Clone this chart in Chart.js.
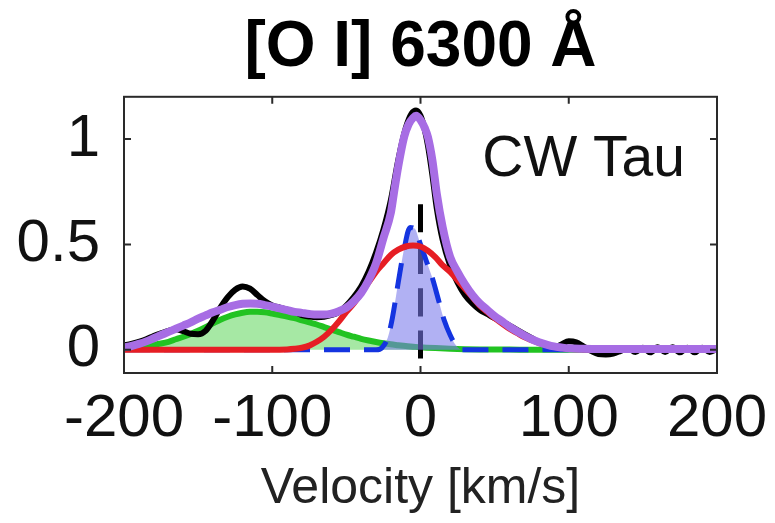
<!DOCTYPE html>
<html><head><meta charset="utf-8">
<script src="https://cdn.jsdelivr.net/npm/chart.js@4.4.0/dist/chart.umd.min.js"></script>
<style>html,body{margin:0;padding:0;background:#fff;}#wrap{width:775px;height:523px;}</style>
</head><body><div id="wrap"><canvas id="c" width="775" height="523"></canvas></div>
<script>
const titleText = '[O I] 6300 Å';
const objectLabel = 'CW Tau';
const xTitle = 'Velocity [km/s]';
const xTicks = [-200, -100, 0, 100, 200];
const yTicks = [0, 0.5, 1];

// observed spectrum (black)
const obsVel = [-200,-195,-190,-185,-180,-175,-170,-165,-160,-155,-150,-145,-140,-135,-130,-125,-120,-115,-110,-105,-100,-95,-90,-85,-80,-75,-70,-65,-60,-55,-50,-45,-40,-35,-30,-25,-20,-15,
  -10,-6,-3,0,3,5,8,11,15,
  20,25,30,35,40,45,50,55,60,65,70,75,80,85,90,95,100,105,110,115,120,125,130,135,140,145,150,155,160,165,170,175,180,185,190,195,200];
const obsFlux = [0.02,0.028,0.038,0.05,0.065,0.078,0.09,0.098,0.088,0.076,0.074,0.09,0.14,0.20,0.25,0.285,0.30,0.29,0.26,0.23,0.21,0.20,0.19,0.18,0.165,0.158,0.155,0.157,0.165,0.18,0.21,0.25,0.30,0.37,0.46,0.57,0.71,0.90,
  1.05,1.12,1.135,1.11,1.04,0.97,0.83,0.67,0.52,
  0.40,0.32,0.26,0.22,0.19,0.17,0.15,0.135,0.115,0.095,0.075,0.055,0.035,0.02,0.012,0.025,0.04,0.035,0.015,-0.005,-0.02,-0.022,-0.018,-0.005,0.008,-0.01,0.01,-0.012,0.012,-0.01,0.012,-0.012,0.01,-0.012,0.01,-0.01,0.004];

// total fit (purple)
const fitVel = [-200,-195,-190,-185,-180,-175,-170,-165,-160,-155,-150,-145,-140,-135,-130,-125,-120,-115,-110,-105,-100,-95,-90,-85,-80,-75,-70,-65,-60,-55,-50,-45,-40,-35,-30,-25,-20,
  -18,-15,-11,-8,-5,-3,0,3,5,8,11,15,
  20,25,30,35,40,45,50,55,60,65,70,75,80,85,90,95,100,110,120,140,160,180,200];
const fitFlux = [0.012,0.018,0.028,0.04,0.055,0.07,0.085,0.10,0.115,0.13,0.148,0.163,0.178,0.19,0.203,0.212,0.218,0.22,0.218,0.212,0.205,0.196,0.188,0.18,0.175,0.17,0.167,0.167,0.172,0.183,0.20,0.23,0.27,0.33,0.41,0.53,0.65,
  0.74,0.87,1.01,1.07,1.10,1.11,1.09,1.05,1.01,0.90,0.74,0.58,
  0.44,0.37,0.31,0.26,0.22,0.19,0.16,0.135,0.11,0.088,0.068,0.05,0.036,0.025,0.016,0.011,0.007,0.005,0.004,0.004,0.004,0.004,0.004];

// broad component (red)
const redVel = [-200,-150,-100,-90,-85,-80,-75,-70,-65,-60,-55,-50,-45,-40,-35,-30,-25,-20,-15,-10,-5,0,5,10,15,20,25,30,35,40,45,50,55,60,65,70,75,80,85,90,95,100,110,120,150,200];
const redFlux = [0,0,0,0.002,0.005,0.01,0.02,0.038,0.062,0.095,0.135,0.18,0.22,0.27,0.32,0.37,0.41,0.45,0.475,0.49,0.495,0.49,0.47,0.44,0.40,0.37,0.33,0.29,0.25,0.21,0.18,0.15,0.125,0.10,0.08,0.06,0.045,0.032,0.022,0.014,0.009,0.005,0.002,0,0,0];

// narrow component (blue dashed, filled)
const blueVel = [-200,-100,-30,-26,-22,-19,-15,-11,-7,-4,0,4,8,12,16,20,24,28,100,200];
const blueFlux = [0,0,0,0.01,0.06,0.15,0.32,0.48,0.58,0.575,0.50,0.42,0.34,0.24,0.14,0.07,0.02,0,0,0];

// high-velocity component (green, filled)
const greenVel = [-200,-195,-190,-185,-180,-175,-170,-165,-160,-155,-150,-145,-140,-135,-130,-125,-120,-115,-110,-105,-100,-95,-90,-85,-80,-75,-70,-65,-60,-55,-50,-45,-40,-35,-30,-25,-20,-15,-10,-5,
  0,10,20,30,40,60,80,120,200];
const greenFlux = [0.005,0.008,0.012,0.017,0.024,0.03,0.038,0.05,0.062,0.075,0.09,0.107,0.125,0.143,0.157,0.168,0.176,0.18,0.18,0.178,0.172,0.165,0.158,0.15,0.14,0.13,0.12,0.108,0.096,0.084,0.072,0.062,0.052,0.044,0.037,0.031,0.026,0.022,0.018,0.015,
  0.012,0.008,0.005,0.003,0.002,0.001,0,0,0];

// zero-velocity marker (black dashed)
const zeroVel = [0, 0];
const zeroFlux = [0.69, -0.11];

const labelVel = 110, labelFlux = 0.9;

const pts = (xs, ys) => xs.map((v, i) => ({x: v, y: ys[i]}));
const FONT = '"Liberation Sans", Arial, Helvetica, sans-serif';

const framePlugin = {
  id: 'frame',
  afterDatasetsDraw(chart) {
    const {ctx, chartArea: a, scales: {x, y}} = chart;
    ctx.save();
    ctx.strokeStyle = '#2a2a2a'; ctx.lineWidth = 2;
    ctx.strokeRect(a.left, a.top, a.right - a.left, a.bottom - a.top);
    const L = 7;
    ctx.beginPath();
    xTicks.forEach(v => { const p = x.getPixelForValue(v);
      ctx.moveTo(p, a.bottom); ctx.lineTo(p, a.bottom - L);
      ctx.moveTo(p, a.top); ctx.lineTo(p, a.top + L); });
    yTicks.forEach(v => { const p = y.getPixelForValue(v);
      ctx.moveTo(a.left, p); ctx.lineTo(a.left + L, p);
      ctx.moveTo(a.right, p); ctx.lineTo(a.right - L, p); });
    ctx.stroke();
    ctx.font = '57px ' + FONT; ctx.fillStyle = '#111';
    ctx.textAlign = 'center'; ctx.textBaseline = 'middle';
    ctx.fillText(objectLabel, x.getPixelForValue(labelVel), y.getPixelForValue(labelFlux));
    ctx.restore();
  }
};

const base = {pointRadius: 0, fill: false, cubicInterpolationMode: 'monotone'};

new Chart(document.getElementById('c'), {
  type: 'line',
  data: {
    datasets: [
      Object.assign({}, base, {label: 'fit', data: pts(fitVel, fitFlux), borderColor: '#a76de4', borderWidth: 8}),
      Object.assign({}, base, {label: 'BC', data: pts(redVel, redFlux), borderColor: '#e61e24', borderWidth: 6}),
      Object.assign({}, base, {label: 'NC', data: pts(blueVel, blueFlux), borderColor: '#1434e0', borderWidth: 5,
        borderDash: [26, 14], fill: 'origin', backgroundColor: 'rgba(120,120,235,0.58)'}),
      Object.assign({}, base, {label: 'v0', data: pts(zeroVel, zeroFlux), borderColor: '#000', borderWidth: 5, borderDash: [28, 14]}),
      Object.assign({}, base, {label: 'obs', data: pts(obsVel, obsFlux), borderColor: '#000', borderWidth: 6}),
      Object.assign({}, base, {label: 'HVC', data: pts(greenVel, greenFlux), borderColor: '#22c322', borderWidth: 6,
        fill: 'origin', backgroundColor: '#a6e8a4'})
    ]
  },
  options: {
    responsive: false, animation: false, devicePixelRatio: 1,
    layout: {padding: {left: 0, right: 58, top: 0, bottom: 0}},
    plugins: {
      legend: {display: false}, tooltip: {enabled: false},
      title: {display: true, text: titleText, fullSize: false, color: '#000',
        font: {family: FONT, size: 64, weight: 'bold', lineHeight: 1.2}, padding: {top: 10, bottom: 10}}
    },
    scales: {
      x: {type: 'linear', min: -200, max: 200,
        afterBuildTicks: s => { s.ticks = xTicks.map(v => ({value: v})); },
        afterFit: s => { s.height = 150; s.paddingLeft = 0; s.paddingRight = 0; },
        grid: {display: false, drawTicks: false}, border: {display: false},
        ticks: {font: {family: FONT, size: 60}, color: '#111', padding: 10, maxRotation: 0, autoSkip: false},
        title: {display: true, text: xTitle, color: '#222', font: {family: FONT, size: 50}, padding: {top: 0, bottom: 4}}
      },
      y: {type: 'linear', min: -0.11, max: 1.2,
        afterBuildTicks: s => { s.ticks = yTicks.map(v => ({value: v})); },
        afterFit: s => { s.width = 124; s.paddingTop = 0; s.paddingBottom = 0; },
        grid: {display: false, drawTicks: false}, border: {display: false},
        ticks: {font: {family: FONT, size: 60}, color: '#111', padding: 24, callback: v => String(v)}
      }
    }
  },
  plugins: [framePlugin]
});
</script></body></html>
